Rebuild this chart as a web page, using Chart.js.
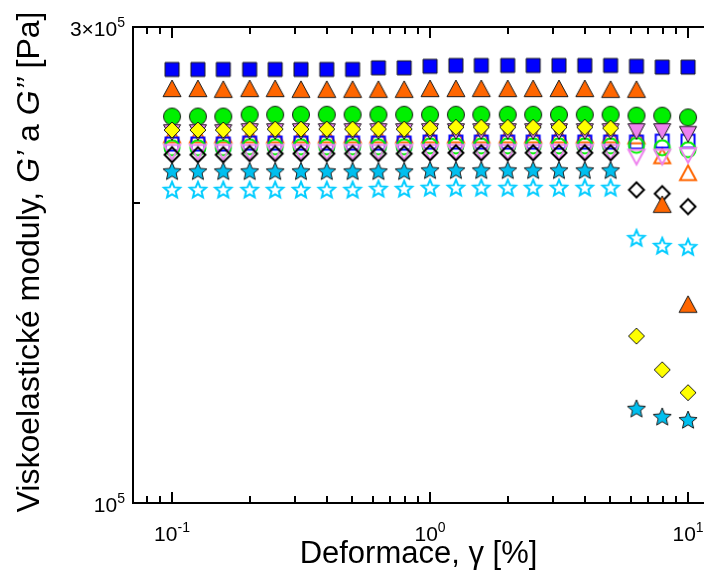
<!DOCTYPE html>
<html>
<head>
<meta charset="utf-8">
<script src="https://cdn.jsdelivr.net/npm/chart.js@4/dist/chart.umd.min.js"></script>
<style>
html,body{margin:0;padding:0;background:#fff;}
canvas{display:block;}
</style>
</head>
<body>
<canvas id="c" width="704" height="575"></canvas>
<script>
// ---------- data ----------
const strain = [0.1, 0.126, 0.158, 0.2, 0.251, 0.316, 0.398, 0.501, 0.631, 0.794, 1, 1.26, 1.58, 2, 2.51, 3.16, 3.98, 5.01, 6.31, 7.94, 10];

const blueSquare   = [2.72e5,2.72e5,2.72e5,2.72e5,2.72e5,2.72e5,2.72e5,2.72e5,2.73e5,2.73e5,2.74e5,2.745e5,2.745e5,2.745e5,2.745e5,2.745e5,2.745e5,2.745e5,2.74e5,2.735e5,2.735e5];
const orangeTri    = [2.60e5,2.60e5,2.595e5,2.60e5,2.60e5,2.595e5,2.595e5,2.595e5,2.595e5,2.595e5,2.60e5,2.60e5,2.60e5,2.60e5,2.60e5,2.60e5,2.60e5,2.595e5,2.595e5,1.99e5,1.58e5];
const greenCircle  = [2.44e5,2.44e5,2.44e5,2.45e5,2.45e5,2.45e5,2.45e5,2.45e5,2.45e5,2.45e5,2.45e5,2.45e5,2.45e5,2.45e5,2.45e5,2.45e5,2.45e5,2.45e5,2.445e5,2.445e5,2.435e5];
const yellowDiam   = [2.365e5,2.365e5,2.365e5,2.37e5,2.37e5,2.37e5,2.37e5,2.37e5,2.37e5,2.37e5,2.375e5,2.38e5,2.38e5,2.38e5,2.38e5,2.38e5,2.38e5,2.375e5,1.47e5,1.36e5,1.29e5];
const violetTri    = [2.355e5,2.355e5,2.355e5,2.36e5,2.36e5,2.36e5,2.36e5,2.36e5,2.36e5,2.36e5,2.36e5,2.36e5,2.36e5,2.36e5,2.36e5,2.36e5,2.36e5,2.36e5,2.36e5,2.36e5,2.345e5];
const orangeOpen   = [2.335e5,2.335e5,2.335e5,2.335e5,2.335e5,2.335e5,2.335e5,2.335e5,2.335e5,2.335e5,2.335e5,2.335e5,2.335e5,2.335e5,2.335e5,2.335e5,2.335e5,2.335e5,2.33e5,2.225e5,2.14e5];
const blueOpen     = [2.29e5,2.29e5,2.29e5,2.295e5,2.295e5,2.295e5,2.295e5,2.295e5,2.295e5,2.295e5,2.30e5,2.30e5,2.30e5,2.30e5,2.30e5,2.30e5,2.30e5,2.30e5,2.30e5,2.305e5,2.305e5];
const greenOpen    = [2.27e5,2.27e5,2.27e5,2.275e5,2.275e5,2.275e5,2.275e5,2.275e5,2.275e5,2.275e5,2.28e5,2.28e5,2.28e5,2.28e5,2.28e5,2.28e5,2.28e5,2.28e5,2.283e5,2.27e5,2.26e5];
const violetOpen   = [2.25e5,2.25e5,2.25e5,2.25e5,2.25e5,2.25e5,2.25e5,2.25e5,2.25e5,2.25e5,2.25e5,2.25e5,2.25e5,2.25e5,2.25e5,2.25e5,2.25e5,2.25e5,2.225e5,2.225e5,2.234e5];
const blackDiam    = [2.234e5,2.234e5,2.234e5,2.24e5,2.24e5,2.24e5,2.24e5,2.24e5,2.24e5,2.24e5,2.244e5,2.244e5,2.244e5,2.244e5,2.244e5,2.244e5,2.244e5,2.244e5,2.06e5,2.042e5,1.982e5];
const cyanStar     = [2.15e5,2.15e5,2.15e5,2.15e5,2.15e5,2.15e5,2.15e5,2.15e5,2.15e5,2.15e5,2.155e5,2.155e5,2.155e5,2.155e5,2.155e5,2.155e5,2.155e5,2.155e5,1.243e5,1.22e5,1.211e5];
const cyanStarOpen = [2.06e5,2.06e5,2.06e5,2.06e5,2.06e5,2.06e5,2.06e5,2.06e5,2.065e5,2.065e5,2.07e5,2.07e5,2.07e5,2.07e5,2.07e5,2.07e5,2.07e5,2.07e5,1.843e5,1.81e5,1.805e5];

const xTickValues = [0.1, 1, 10];
const xTickLabels = [['10', '-1'], ['10', '0'], ['10', '1']];
const yTickValues = [1e5, 2e5, 3e5];
const yTickLabels = [['10', '5'], ['', ''], ['3\u00D710', '5']];

const xTitle = 'Deformace, \u03B3 [%]';
const yTitleParts = [['Viskoelastické moduly, ', false], ['G\u2019', true], [' a ', false], ['G\u2019\u2019', true], [' [Pa]', false]];

// ---------- markers ----------
function marker(shape, size, fill, stroke, lw) {
  const pad = Math.ceil(lw) + 2;
  let W = Math.ceil(size + 2 * pad); if (W % 2) W++;
  const c = document.createElement('canvas');
  c.width = W; c.height = W;
  const g = c.getContext('2d');
  const cx = W / 2, cy = W / 2, r = size / 2;
  g.beginPath();
  if (shape === 'square') g.rect(cx - r, cy - r, size, size);
  else if (shape === 'circle') g.arc(cx, cy, r, 0, Math.PI * 2);
  else if (shape === 'diamond') { g.moveTo(cx, cy - r); g.lineTo(cx + r, cy); g.lineTo(cx, cy + r); g.lineTo(cx - r, cy); g.closePath(); }
  else if (shape === 'triUp') { g.moveTo(cx, cy - r); g.lineTo(cx + r, cy + r * 0.85); g.lineTo(cx - r, cy + r * 0.85); g.closePath(); }
  else if (shape === 'triDown') { g.moveTo(cx, cy + r); g.lineTo(cx + r, cy - r * 0.85); g.lineTo(cx - r, cy - r * 0.85); g.closePath(); }
  else if (shape === 'star') {
    const ri = r * 0.45;
    for (let i = 0; i < 10; i++) {
      const rr = i % 2 ? ri : r;
      const a = -Math.PI / 2 + i * Math.PI / 5;
      const px = cx + rr * Math.cos(a), py = cy + 0.5 + rr * Math.sin(a);
      if (i === 0) g.moveTo(px, py); else g.lineTo(px, py);
    }
    g.closePath();
  }
  if (fill) { g.fillStyle = fill; g.fill(); }
  if (stroke) { g.strokeStyle = stroke; g.lineWidth = lw; g.lineJoin = 'miter'; g.stroke(); }
  return c;
}

const OUT = '#1a1a1a';
const series = [
  [blueSquare,   marker('square', 14, '#0000FF', OUT, 1)],
  [yellowDiam,   marker('diamond', 16, '#FFFF00', OUT, 1)],
  [violetTri,    marker('triDown', 17, '#EE82EE', OUT, 1)],
  [greenCircle,  marker('circle', 17, '#00F000', OUT, 1)],
  [orangeTri,    marker('triUp', 18, '#FF6600', OUT, 1)],
  [cyanStar,     marker('star', 19, '#00BFEF', OUT, 1)],
  [blackDiam,    marker('diamond', 15, null, '#000000', 2)],
  [violetOpen,   marker('triDown', 16, null, '#EE82EE', 2)],
  [greenOpen,    marker('circle', 15, null, '#00F000', 2)],
  [blueOpen,     marker('square', 13, null, '#0000FF', 2)],
  [orangeOpen,   marker('triUp', 16, null, '#FF6600', 2)],
  [cyanStarOpen, marker('star', 17, null, '#00CCFF', 2)]
];

const datasets = series.map(([vals, img]) => ({
  data: strain.map((x, i) => ({ x: x, y: vals[i] })).filter(p => p.y != null),
  pointStyle: img,
  pointRadius: 8,
  showLine: false
}));

const FONT = "'Liberation Sans', Arial, sans-serif";
const BASE = 21, EXP = 14, RAISE = 9;

function drawPowerLabel(ctx, base, exp, x, yBase, align) {
  ctx.font = BASE + 'px ' + FONT;
  const wb = ctx.measureText(base).width;
  ctx.font = EXP + 'px ' + FONT;
  const we = ctx.measureText(exp).width;
  const total = wb + we;
  let x0 = align === 'center' ? x - total / 2 : x - total;
  ctx.textAlign = 'left';
  ctx.textBaseline = 'alphabetic';
  ctx.font = BASE + 'px ' + FONT;
  ctx.fillText(base, x0, yBase);
  ctx.font = EXP + 'px ' + FONT;
  ctx.fillText(exp, x0 + wb, yBase - RAISE);
}

const axisDecor = {
  id: 'axisDecor',
  afterDraw(chart) {
    const ctx = chart.ctx;
    const xs = chart.scales.x, ys = chart.scales.y;
    const a = chart.chartArea;
    ctx.save();
    ctx.strokeStyle = '#000';
    ctx.lineWidth = 2;
    ctx.beginPath();
    // top frame line
    ctx.moveTo(a.left - 1, a.top);
    ctx.lineTo(a.right, a.top);
    // x ticks (inward, bottom pointing up, top pointing down)
    for (let d = -2; d <= 1; d++) {
      for (let m = 1; m <= 9; m++) {
        const v = m * Math.pow(10, d);
        if (v < xs.min || v > xs.max) continue;
        const px = Math.round(xs.getPixelForValue(v));
        const len = m === 1 ? 11 : 7;
        ctx.moveTo(px, a.bottom);
        ctx.lineTo(px, a.bottom - len);
        ctx.moveTo(px, a.top);
        ctx.lineTo(px, a.top + len);
      }
    }
    // y ticks (inward, pointing right)
    yTickValues.forEach((v) => {
      const py = Math.round(ys.getPixelForValue(v));
      const len = (v === 2e5) ? 7 : 11;
      ctx.moveTo(a.left, py);
      ctx.lineTo(a.left + len, py);
    });
    ctx.stroke();
    // tick labels
    ctx.fillStyle = '#000';
    xTickValues.forEach((v, i) => {
      const px = xs.getPixelForValue(v);
      drawPowerLabel(ctx, xTickLabels[i][0], xTickLabels[i][1], px, a.bottom + 38, 'center');
    });
    yTickValues.forEach((v, i) => {
      if (!yTickLabels[i][0]) return;
      const py = ys.getPixelForValue(v);
      drawPowerLabel(ctx, yTickLabels[i][0], yTickLabels[i][1], a.left - 8, py + 9, 'right');
    });
    // y title with italic parts
    const size = 32;
    const widths = yTitleParts.map(([t, it]) => { ctx.font = (it ? 'italic ' : '') + size + 'px ' + FONT; return ctx.measureText(t).width; });
    const total = widths.reduce((s, w) => s + w, 0);
    ctx.translate(30, 262);
    ctx.rotate(-Math.PI / 2);
    ctx.textBaseline = 'middle';
    ctx.textAlign = 'left';
    let x0 = -total / 2;
    yTitleParts.forEach(([t, it], i) => {
      ctx.font = (it ? 'italic ' : '') + size + 'px ' + FONT;
      ctx.fillText(t, x0, 0);
      x0 += widths[i];
    });
    ctx.restore();
  }
};

new Chart(document.getElementById('c'), {
  type: 'scatter',
  data: { datasets },
  options: {
    responsive: false,
    animation: false,
    devicePixelRatio: 1,
    events: [],
    layout: { autoPadding: false, padding: { top: 27, right: 0, left: 0, bottom: 0 } },
    plugins: { legend: { display: false }, tooltip: { enabled: false } },
    scales: {
      x: {
        type: 'logarithmic',
        min: 0.0706,
        max: 11.53,
        grid: { display: false, drawTicks: false },
        border: { display: true, color: '#000', width: 2 },
        afterBuildTicks: s => { s.ticks = xTickValues.map(v => ({ value: v, major: true })); },
        afterFit: s => { s.height = 72; s.paddingLeft = 0; s.paddingRight = 0; },
        ticks: { display: false, autoSkip: false, maxRotation: 0 },
        title: { display: true, text: xTitle, color: '#000', font: { family: FONT, size: 31 }, padding: { top: 0, bottom: 2 } }
      },
      y: {
        type: 'logarithmic',
        min: 1e5,
        max: 3e5,
        grid: { display: false, drawTicks: false },
        border: { display: true, color: '#000', width: 2 },
        afterBuildTicks: s => { s.ticks = yTickValues.map(v => ({ value: v })); },
        afterFit: s => { s.width = 133; s.paddingTop = 0; s.paddingBottom = 0; },
        ticks: { display: false, autoSkip: false }
      }
    }
  },
  plugins: [axisDecor]
});
</script>
</body>
</html>
